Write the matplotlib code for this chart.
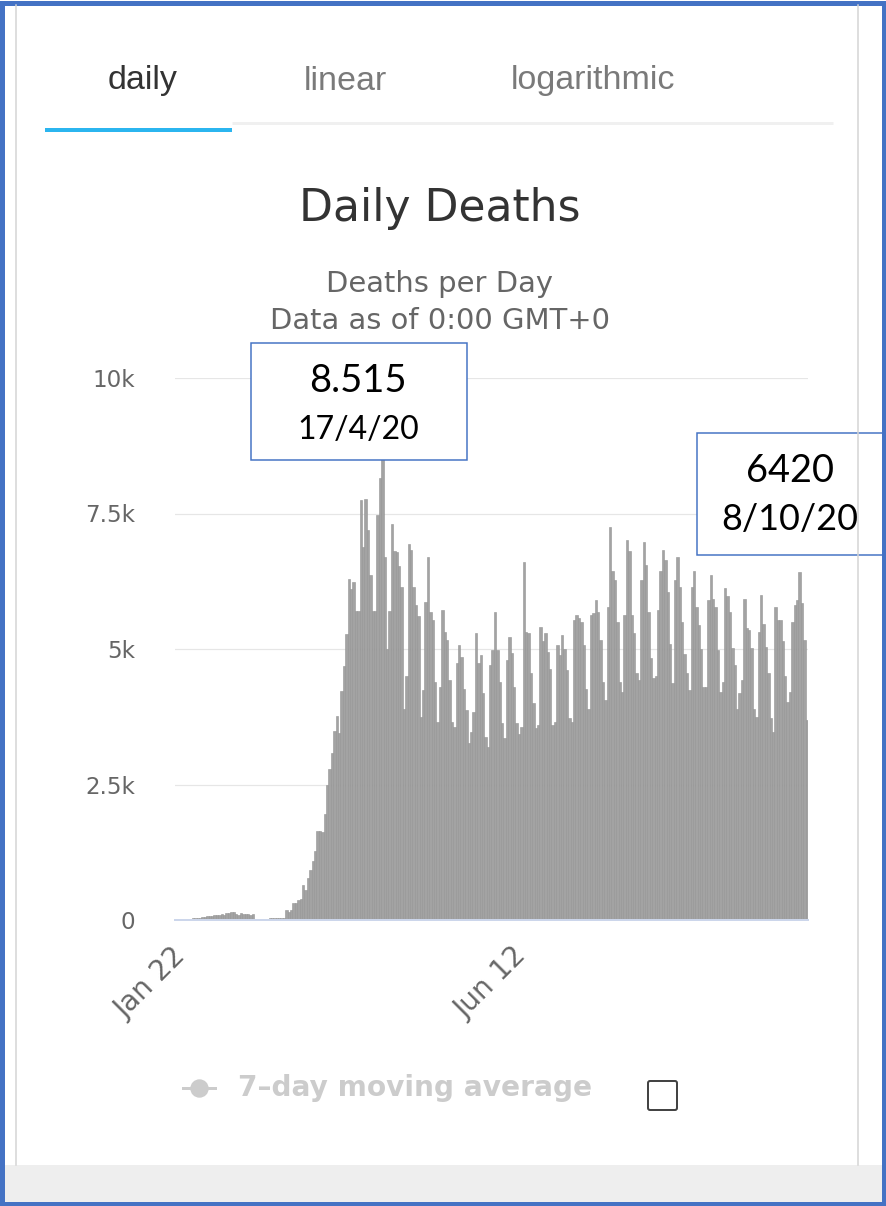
import matplotlib
matplotlib.use("Agg")
import matplotlib.pyplot as plt
from matplotlib.patches import Rectangle, FancyBboxPatch
import matplotlib.transforms as mtransforms
import pandas as pd

# ---------------- data ----------------
dates = pd.date_range("2020-01-22", "2020-10-11", freq="D")
date_labels = [f"{d.strftime('%b')} {d.day}" for d in dates]

deaths = [
    17, 8, 16, 14, 24, 26, 26, 38, 43, 46, 45, 57, 64,
    66, 73, 73, 86, 89, 97, 108, 97, 125, 121, 143, 142, 105, 98, 136, 114, 118, 109, 98, 110,
    12, 8, 10, 6, 9, 5,
    30, 35, 28, 40, 38, 45, 40,
    190, 150, 185, 310, 320, 370, 380,
    650, 560, 770, 925, 1080, 1265, 1635, 1640, 1630, 1950, 2500, 2780, 3085, 3485, 3760, 3455,
    4225, 4690, 5275, 6290, 6110, 6230, 5710, 5710, 7740, 6880, 7770, 7190, 6360, 5700, 5700,
    7470, 8150, 8515,
    6700, 5000, 5700, 7300, 6800, 6790, 6540, 6150, 3900,
    4500, 6940, 6820, 6150, 5810, 5600, 3750,
    4240, 5870, 6700, 5690, 5540, 4400, 3660,
    4300, 5720, 5320, 5170, 4430, 3660, 3570,
    4740, 5070, 4860, 4270, 3870, 3260, 3470,
    3840, 5290, 4740, 4890, 4180, 3380, 3200,
    4700, 4980, 5690, 4980, 4400, 3630, 3350,
    4800, 5230, 4920, 4300, 3630, 3440, 3570,
    6610, 5320, 5290, 4550, 4000, 3540, 3600,
    5410, 5140, 5290, 4950, 4640, 3600, 3660,
    5070, 4890, 5260, 5000, 4610, 3720, 3660,
    5540, 5630, 5570, 5500, 5070, 4270, 3900,
    5630, 5660, 5900, 5690, 5170, 4400, 4060,
    5780, 7260, 6430, 6270, 5500, 4400, 4210,
    5630, 7010, 6800, 5630, 5300, 4550, 4430,
    6270, 6980, 6550, 5690, 4830, 4460, 4500,
    5720, 6430, 6830, 6640, 6060, 5100, 4370,
    6270, 6700, 6150, 5500, 4900, 4550, 4240,
    6150, 6430, 5780, 5440, 5000, 4300, 4300,
    5900, 6370, 5930, 5780, 4980, 4210, 4400,
    6120, 5970, 5690, 5010, 4700, 3900, 4180,
    4430, 5930, 5380, 5350, 5010, 3900, 3750,
    5320, 6000, 5470, 5040, 4550, 3720, 3470,
    5780, 5540, 5540, 5140, 4500, 4030, 4210,
    5500, 5810, 5900, 6420, 5840, 5170, 3690,
]

y_ticks = [0, 2500, 5000, 7500, 10000]
y_tick_labels = ["0", "2.5k", "5k", "7.5k", "10k"]
x_tick_labels = ["Jan 22", "Jun 12"]

tabs = ["daily", "linear", "logarithmic"]
title = "Daily Deaths"
subtitle = ["Deaths per Day", "Data as of 0:00 GMT+0"]
legend_label = "7\u2013day moving average"
callouts = [("8.515", "17/4/20"), ("6420", "8/10/20")]

# ---------------- figure ----------------
W, H = 887, 1206
fig = plt.figure(figsize=(W / 100, H / 100), dpi=100)
fig.patch.set_facecolor("white")

def px(v):
    return v * 0.72

L, R, T, B = 175, 808, 378, 920
ax = fig.add_axes([L / W, 1 - B / H, (R - L) / W, (B - T) / H])
ax.set_facecolor("white")
n = len(deaths)
ax.bar(range(n), deaths, width=1.0, color="#a3a3a3", edgecolor="#939393",
       linewidth=0.4, zorder=3)
ax.set_xlim(-0.5, n - 0.5)
ax.set_ylim(0, 10000)
ax.set_yticks(y_ticks)
ax.set_yticklabels(y_tick_labels)
ax.tick_params(axis="y", length=0, pad=px(40), labelsize=px(23), labelcolor="#666666")
for lab in ax.get_yticklabels():
    lab.set_family("DejaVu Sans")
ax.grid(axis="y", color="#e6e6e6", linewidth=px(1.2), zorder=0)
ax.set_xticks([])
for s in ["left", "right", "top"]:
    ax.spines[s].set_visible(False)
ax.spines["bottom"].set_color("#ccd6eb")
ax.spines["bottom"].set_linewidth(px(2))
ax.spines["bottom"].set_zorder(4)

# x labels rotated
for lab in x_tick_labels:
    i = date_labels.index(lab)
    tr = ax.get_xaxis_transform() + mtransforms.ScaledTranslation(5 / 100, -32 / 100, fig.dpi_scale_trans)
    ax.text(i, 0, lab, transform=tr, rotation=45, ha="right", va="center",
            rotation_mode="anchor", fontsize=px(28), color="#666666", family="DejaVu Sans")

# ---------------- overlay in pixel coords ----------------
ov = fig.add_axes([0, 0, 1, 1], zorder=10)
ov.set_xlim(0, W)
ov.set_ylim(H, 0)
ov.axis("off")
ov.patch.set_alpha(0)

# bottom band and panel lines
ov.add_patch(Rectangle((5, 1165), W - 10, 38, facecolor="#eeeeee", edgecolor="none"))
ov.plot([16, 16], [5, 1165], color="#d4d4d4", lw=px(1.5))
ov.plot([858, 858], [5, 1165], color="#d4d4d4", lw=px(1.5))

# tabs
tab_x = [143, 345, 593]
tab_c = ["#333333", "#7a7a7a", "#7a7a7a"]
for t, x, c in zip(tabs, tab_x, tab_c):
    ov.text(x, 81, t, ha="center", va="center", fontsize=px(34), color=c, family="Liberation Sans")
ov.plot([232, 833], [123, 123], color="#f0f0f0", lw=px(3), solid_capstyle="butt")
ov.plot([45, 232], [129.5, 129.5], color="#2bb5ef", lw=px(4), solid_capstyle="butt")

# titles
ov.text(440, 208, title, ha="center", va="center", fontsize=px(44), color="#333333", family="DejaVu Sans")
ov.text(440, 284, subtitle[0], ha="center", va="center", fontsize=px(29), color="#666666", family="DejaVu Sans")
ov.text(440, 321, subtitle[1], ha="center", va="center", fontsize=px(29), color="#666666", family="DejaVu Sans")

# callout boxes
boxes = [(251, 343, 216, 117, 358), (697, 433, 186, 122, 790)]
date_sizes = [32, 36]
for (bx, by, bw, bh, cx), (v, d), ds in zip(boxes, callouts, date_sizes):
    ov.add_patch(Rectangle((bx, by), bw, bh, facecolor="white", edgecolor="#4472C4", lw=px(1.5)))
    ov.text(cx, by + 38, v, ha="center", va="center", fontsize=px(38), color="#000000", family="Lato")
    ov.text(cx, by + 87, d, ha="center", va="center", fontsize=px(ds), color="#000000", family="Lato")

# legend
ov.plot([183, 215], [1088, 1088], color="#cccccc", lw=px(3))
ov.plot([199], [1088], marker="o", markersize=px(17), color="#cccccc")
ov.text(238, 1088, legend_label, ha="left", va="center", fontsize=px(28), color="#cccccc",
        fontweight="bold", family="DejaVu Sans")
ov.add_patch(FancyBboxPatch((648, 1081), 29, 29, boxstyle="round,pad=0,rounding_size=2",
                            facecolor="white", edgecolor="#444444", lw=px(2)))

# outer border
ov.add_patch(Rectangle((2.5, 2.5), W - 5, H - 5, facecolor="none", edgecolor="#4472C4", lw=px(5)))

fig.savefig("out.png", dpi=100)
